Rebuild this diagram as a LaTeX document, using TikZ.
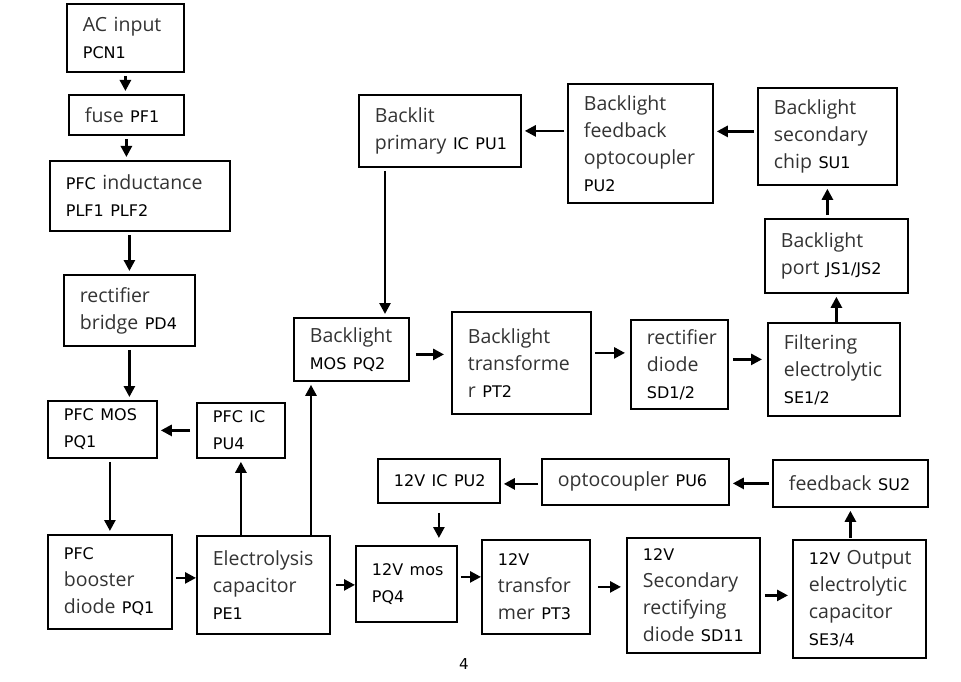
\documentclass[tikz,border=0pt]{standalone}
\usepackage{fontspec}
\setmainfont{Open Sans}
\newfontfamily\codefont{DejaVu Sans}
\usetikzlibrary{arrows.meta, calc}
\newcommand{\pn}[1]{{\codefont\color{black}\fontsize{16}{27}\selectfont #1}}
\hyphenpenalty=10000

\begin{document}
\begin{tikzpicture}[x=1pt, y=-1pt,
    blk/.style={draw, line width=1.8pt, anchor=north west, align=left, inner xsep=16pt, inner ysep=2pt, text=black!80, font=\fontsize{19.5}{27}\selectfont},
    arr/.style={-{Triangle[length=11pt, width=11pt]}, line width=2.6pt, shorten <=3pt, shorten >=3pt}
 ]
\useasboundingbox (0,0) rectangle (961,682);

\node[blk, text width=85, minimum height=68] (ACInput) at (66,3) {AC input\\\pn{PCN1}};
\node[blk, text width=83, minimum height=40] (Fuse) at (68,94) {fuse~\pn{PF1}};
\draw[arr] (ACInput.south) -- (ACInput.south |- Fuse.north);

\node[blk, text width=148, minimum height=70] (PFCInductance) at (49,160) {\pn{PFC} inductance\\\pn{PLF1 PLF2}};
\draw[arr] (Fuse.south) -- (Fuse.south |- PFCInductance.north);

\node[blk, text width=99, minimum height=71] (RectBridge) at (63,274) {rectifier\\bridge~\pn{PD4}};
\draw[arr] (RectBridge.north |- PFCInductance.south) -- (RectBridge.north);

\node[blk, text width=77, minimum height=57] (PFCMOS) at (47,400) {\pn{PFC~MOS}\\\pn{PQ1}};
\node[blk, text width=56, minimum height=55] (PFCIC) at (196,402) {\pn{PFC~IC}\\\pn{PU4}};
\draw[arr] (RectBridge.south) -- (RectBridge.south |- PFCMOS.north);
\draw[arr, shorten <=6pt] (PFCIC.west) -- (PFCIC.west -| PFCMOS.east);

\node[blk, text width=92, minimum height=94] (BoostDiode) at (47,534) {\pn{PFC}\\booster\\diode~\pn{PQ1}};
\node[blk, text width=101, minimum height=98] (ElecCap) at (196,535) {Electrolysis\\capacitor\\\pn{PE1}};
\draw[arr] (BoostDiode.north |- PFCMOS.south) -- (BoostDiode.north);
\draw[arr, shorten >=0pt] ([yshift=4pt]BoostDiode.east) -- ([yshift=4pt]BoostDiode.east -| ElecCap.west);
\draw[arr, shorten <=0pt] (PFCIC.south |- ElecCap.north) -- (PFCIC.south);

\node[blk, text width=130, minimum height=72] (BackPrimary) at (358,94) {Backlit\\primary~\pn{IC~PU1}};
\node[blk, text width=113, minimum height=119] (BackFeedback) at (567,83) {Backlight\\feedback\\optocoupler\\\pn{PU2}};
\node[blk, text width=107, minimum height=97] (BackSecondary) at (757,87) {Backlight\\secondary\\chip~\pn{SU1}};
\node[blk, text width=111, minimum height=74] (BackPort) at (764,218) {Backlight\\port~\pn{JS1/JS2}};
\draw[arr] (BackFeedback.west |- BackPrimary.east) -- (BackPrimary.east);
\draw[arr] ([yshift=5pt]BackSecondary.west) -- ([yshift=5pt]BackSecondary.west -| BackFeedback.east);
\draw[arr] (BackSecondary.south |- BackPort.north) -- (BackSecondary.south);

\node[blk, text width=83, minimum height=63] (BackMOS) at (293,317) {Backlight\\\pn{MOS~PQ2}};
\node[blk, text width=107, minimum height=102] (BackTrans) at (451,311) {Backlight\\transforme\\r~\pn{PT2}};
\node[blk, text width=65, minimum height=89] (RectDiode) at (630,319) {rectifier\\diode\\\pn{SD1/2}};
\node[blk, text width=100, minimum height=93] (FilterCap) at (767,322) {Filtering\\electrolytic\\\pn{SE1/2}};
\coordinate (BackMOSIn) at ($(BackMOS.south west)+(18,0)$);
\coordinate (BackPrimaryOut) at ($(BackPrimary.south west)+(27,0)$);
\draw[arr] (BackPrimaryOut) -- (BackPrimaryOut |- BackMOS.north);
\draw[arr, shorten <=0pt] (BackMOSIn |- ElecCap.north) -- (BackMOSIn);
\draw[arr, shorten <=6pt, shorten >=7pt] ([yshift=-5pt]BackMOS.east) -- ([yshift=-5pt]BackMOS.east -| BackTrans.west);
\draw[arr, shorten >=5pt] ([yshift=10pt]BackTrans.east) -- ([yshift=10pt]BackTrans.east -| RectDiode.west);
\draw[arr, shorten <=4pt, shorten >=5pt] ([yshift=5pt]RectDiode.east) -- ([yshift=5pt]RectDiode.east -| FilterCap.west);
\draw[arr, shorten <=0pt] (BackPort.south |- FilterCap.north) -- (BackPort.south);

\node[blk, text width=90, minimum height=44] (ICPU) at (377,458) {\pn{12V~IC~PU2}};
\node[blk, text width=155, minimum height=46] (Opto) at (541,458) {optocoupler~\pn{PU6}};
\node[blk, text width=123, minimum height=47] (Feedback) at (772,459) {feedback~\pn{SU2}};
\draw[arr] ([yshift=-2pt]Opto.west) -- ([yshift=-2pt]Opto.west -| ICPU.east);
\draw[arr] (Feedback.west) -- (Feedback.west -| Opto.east);

\node[blk, text width=69, minimum height=76] (MOSPQ) at (355,545) {\pn{12V~mos}\\\pn{PQ4}};
\node[blk, text width=76, minimum height=94] (Trans) at (481,539) {\pn{12V}\\transfor\\mer~\pn{PT3}};
\node[blk, text width=101, minimum height=115] (SecDiode) at (626,537) {\pn{12V}\\Secondary\\rectifying\\diode~\pn{SD11}};
\node[blk, text width=101, minimum height=118] (OutCap) at (792,539) {\mbox{\pn{12V} Output}\\electrolytic\\capacitor\\\pn{SE3/4}};
\draw[arr, shorten <=9pt, shorten >=7pt] (ICPU.south) -- (ICPU.south |- MOSPQ.north);
\draw[arr, shorten <=5pt, shorten >=0pt] (ElecCap.east) -- (ElecCap.east -| MOSPQ.west);
\draw[arr, shorten >=0pt] ([yshift=7pt]MOSPQ.east) -- ([yshift=7pt]MOSPQ.east -| Trans.west);
\draw[arr, shorten <=7pt, shorten >=5pt] (Trans.east) -- (Trans.east -| SecDiode.west);
\draw[arr, shorten <=4pt, shorten >=4pt] (SecDiode.east) -- (SecDiode.east -| OutCap.west);
\draw[arr, shorten <=1pt] (Feedback.south |- OutCap.north) -- (Feedback.south);

\node[font=\codefont\fontsize{15}{18}\selectfont] (PageNo) at (464,664) {4};

\end{tikzpicture}
\end{document}
